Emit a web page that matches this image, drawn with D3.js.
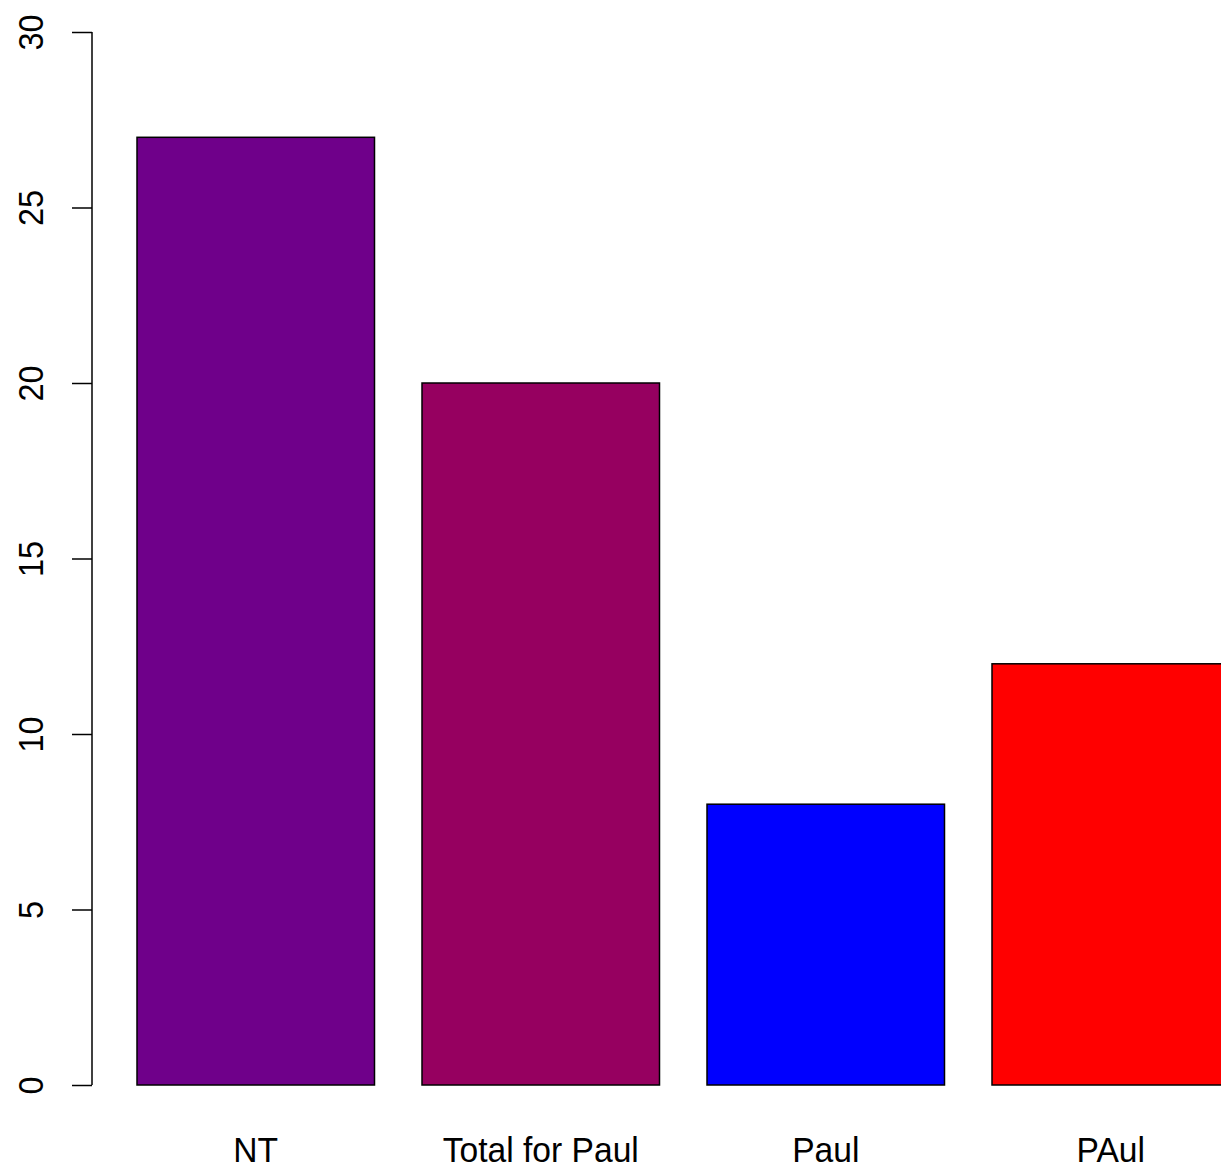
<!DOCTYPE html>
<html>
<head>
<meta charset="utf-8">
<script src="https://cdn.jsdelivr.net/npm/d3@7"></script>
<style>
  body { margin: 0; background: #fff; }
  text { font-family: "Liberation Sans", Arial, sans-serif; }
</style>
</head>
<body>
<div id="chart"></div>
<script>
var categories = ["NT", "Total for Paul", "Paul", "PAul"];
var values = [27, 20, 8, 12];
var colors = ["#6f008a", "#960060", "#0000ff", "#ff0000"];
var yTicks = [0, 5, 10, 15, 20, 25, 30];

var width = 1221, height = 1168;
var space = 0.2;

var svg = d3.select("#chart").append("svg")
  .attr("width", width)
  .attr("height", height);

// bar units like R barplot: width 1, space 0.2
var x = d3.scaleLinear().domain([0, 4.8]).range([89.5, 89.5 + 4.8 * 237.5]);
var y = d3.scaleLinear().domain([0, 30]).range([1085, 32]);

var bars = categories.map(function(c, i) {
  return {label: c, value: values[i], color: colors[i], x0: space + i * (1 + space)};
});

svg.append("g").selectAll("rect")
  .data(bars)
  .enter().append("rect")
  .attr("x", function(d) { return x(d.x0); })
  .attr("y", function(d) { return y(d.value); })
  .attr("width", function(d) { return x(d.x0 + 1) - x(d.x0); })
  .attr("height", function(d) { return y(0) - y(d.value); })
  .attr("fill", function(d) { return d.color; })
  .attr("stroke", "#000")
  .attr("stroke-width", 1.5);

// labels, slightly condensed like the original rendering
svg.append("g").selectAll("text")
  .data(bars)
  .enter().append("text")
  .attr("transform", function(d) { return "translate(" + x(d.x0 + 0.5) + ",1162) scale(0.96,1)"; })
  .attr("text-anchor", "middle")
  .attr("font-size", 35)
  .attr("fill", "#000")
  .text(function(d) { return d.label; });

// y axis
var yAxis = d3.axisLeft(y).tickValues(yTicks).tickSize(20).tickPadding(0).tickFormat(d3.format("d"));
var gY = svg.append("g")
  .attr("transform", "translate(92,0)")
  .call(yAxis);

gY.select(".domain")
  .attr("d", "M0," + y(0) + "V" + y(30))
  .attr("stroke-width", 1.5);
gY.selectAll(".tick line").attr("stroke-width", 1.5);
gY.selectAll(".tick text")
  .attr("font-size", 36)
  .attr("font-family", "Liberation Sans, Arial, sans-serif")
  .attr("fill", "#000")
  .attr("text-anchor", "middle")
  .attr("dy", null)
  .attr("x", null)
  .attr("transform", "translate(-49,0) rotate(-90) scale(0.9,1)");
</script>
</body>
</html>
